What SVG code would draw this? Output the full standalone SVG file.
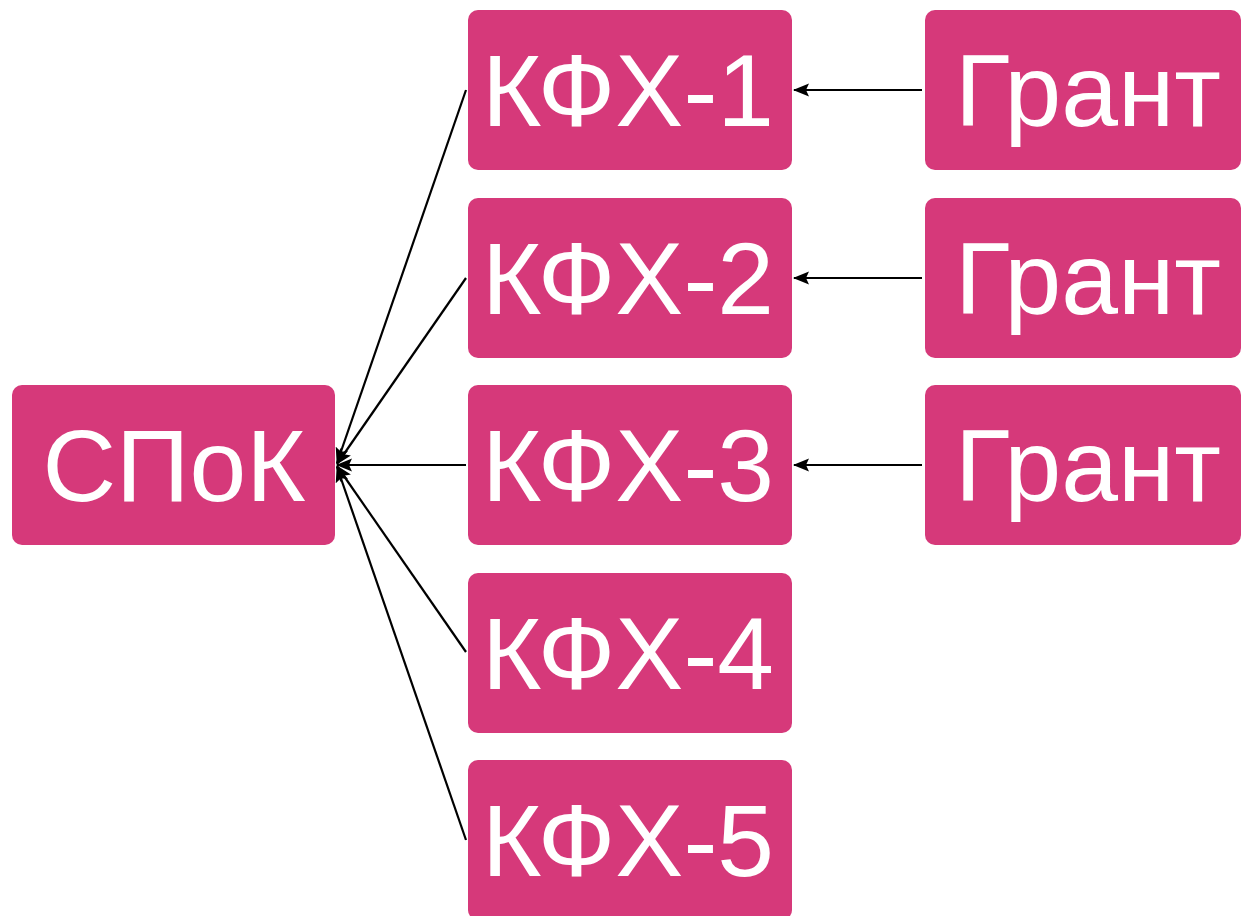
<svg xmlns="http://www.w3.org/2000/svg" width="1241" height="916" viewBox="0 0 1241 916">
<style>
.box{fill:#d6397a}
.lbl{fill:#fff;font-family:"Liberation Sans","DejaVu Sans",sans-serif;font-size:102px;text-anchor:middle}
.edge{stroke:#000;stroke-width:2.2;fill:none;marker-end:url(#ah)}
</style>
<defs>
<marker id="ah" markerWidth="16" markerHeight="14" refX="15" refY="7" orient="auto" markerUnits="userSpaceOnUse">
<path d="M0,0.5 L16,7 L0,13.5 L3,7 Z" fill="#000"/>
</marker>
</defs>
<rect width="1241" height="916" fill="#fff"/>
<g id="connectors">
<line class="edge" x1="466" y1="90" x2="337" y2="463"/>
<line class="edge" x1="466" y1="278" x2="337" y2="464"/>
<line class="edge" x1="466" y1="465" x2="337" y2="465"/>
<line class="edge" x1="466" y1="652" x2="337" y2="466"/>
<line class="edge" x1="466" y1="840" x2="337" y2="467"/>
<line class="edge" x1="922" y1="90" x2="794" y2="90"/>
<line class="edge" x1="922" y1="278" x2="794" y2="278"/>
<line class="edge" x1="922" y1="465" x2="794" y2="465"/>
</g>
<g id="spok"><rect class="box" x="12" y="385" width="323" height="160" rx="10"/><text class="lbl" x="174" y="501">СПоК</text></g>
<g id="kfx1"><rect class="box" x="468" y="10" width="324" height="160" rx="10"/><text class="lbl" x="628" y="126">КФХ-1</text></g>
<g id="kfx2"><rect class="box" x="468" y="198" width="324" height="160" rx="10"/><text class="lbl" x="628" y="314">КФХ-2</text></g>
<g id="kfx3"><rect class="box" x="468" y="385" width="324" height="160" rx="10"/><text class="lbl" x="628" y="501">КФХ-3</text></g>
<g id="kfx4"><rect class="box" x="468" y="573" width="324" height="160" rx="10"/><text class="lbl" x="628" y="689">КФХ-4</text></g>
<g id="kfx5"><rect class="box" x="468" y="760" width="324" height="160" rx="10"/><text class="lbl" x="628" y="876">КФХ-5</text></g>
<g id="grant1"><rect class="box" x="925" y="10" width="316" height="160" rx="10"/><text class="lbl" x="1088" y="126">Грант</text></g>
<g id="grant2"><rect class="box" x="925" y="198" width="316" height="160" rx="10"/><text class="lbl" x="1088" y="314">Грант</text></g>
<g id="grant3"><rect class="box" x="925" y="385" width="316" height="160" rx="10"/><text class="lbl" x="1088" y="501">Грант</text></g>
</svg>
